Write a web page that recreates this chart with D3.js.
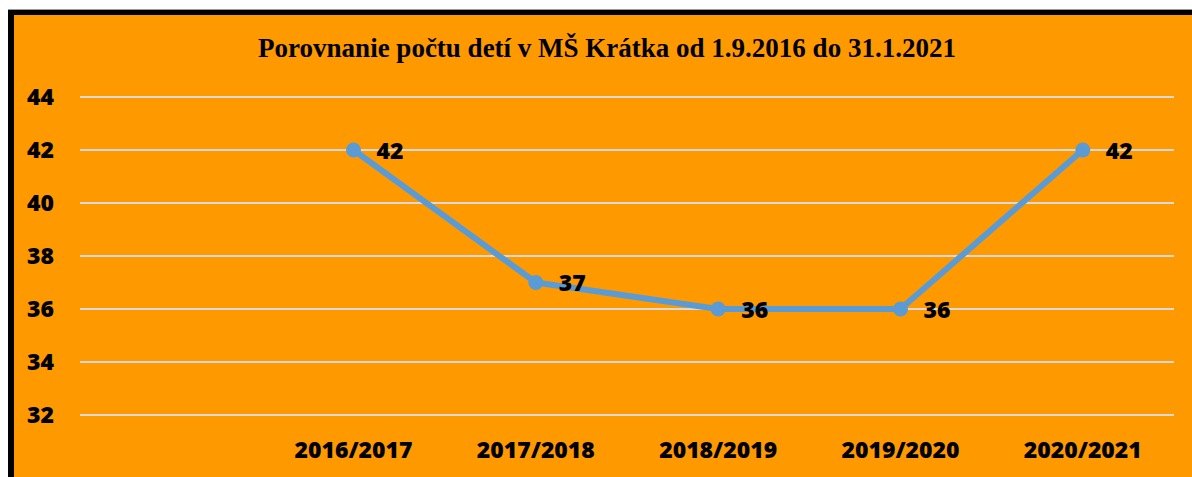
<!DOCTYPE html>
<html>
<head>
<meta charset="utf-8">
<script src="https://cdn.jsdelivr.net/npm/d3@7"></script>
<style>
  body { margin: 0; background: #fff; overflow: hidden; }
  svg { display: block; }
  .tick-label { font-family: 'Open Sans', sans-serif; font-weight: 800; font-size: 23px; fill: #000; }
  .title { font-family: 'Liberation Serif', serif; font-weight: bold; font-size: 27px; fill: #000; }
</style>
</head>
<body>
<script>
const width = 1192, height = 477;
const title = 'Porovnanie počtu detí v MŠ Krátka od 1.9.2016 do 31.1.2021';

// first category is empty in the original chart
const categories = ['', '2016/2017', '2017/2018', '2018/2019', '2019/2020', '2020/2021'];
const values = [null, 42, 37, 36, 36, 42];
const yTicks = [32, 34, 36, 38, 40, 42, 44];

const margin = { top: 97, right: 18, bottom: 62, left: 80 };
const innerWidth = width - margin.left - margin.right;
const innerHeight = height - margin.top - margin.bottom;

const svg = d3.select('body')
    .append('svg')
    .attr('width', width)
    .attr('height', height)

// frame
svg.append('rect').attr('x', 8).attr('y', 9).attr('width', width - 8).attr('height', height - 9).attr('fill', '#999')
svg.append('rect').attr('x', 8).attr('y', 10).attr('width', width - 8).attr('height', height - 10).attr('fill', '#000')
svg.append('rect').attr('x', 14).attr('y', 15).attr('width', width - 14).attr('height', height - 15).attr('fill', '#FF9900')

svg.append('text')
    .attr('class', 'title')
    .attr('x', 607)
    .attr('y', 57)
    .attr('text-anchor', 'middle')
    .text(title)

const xScale = d3.scaleBand()
    .domain(categories.map((d, i) => i))
    .range([0, innerWidth])

const yScale = d3.scaleLinear()
    .domain([32, 44])
    .range([innerHeight, 0])

const g = svg.append('g').attr('transform', `translate(${margin.left}, ${margin.top})`);

// gridlines
g.selectAll('.grid')
    .data(yTicks)
    .enter()
    .append('line')
    .attr('x1', 0)
    .attr('x2', innerWidth)
    .attr('y1', d => yScale(d))
    .attr('y2', d => yScale(d))
    .attr('stroke', '#D9D9D9')
    .attr('stroke-width', 2)

// y axis labels
g.selectAll('.ylab')
    .data(yTicks)
    .enter()
    .append('text')
    .attr('class', 'tick-label')
    .attr('x', -26)
    .attr('y', d => yScale(d))
    .attr('dy', '0.35em')
    .attr('text-anchor', 'end')
    .text(d => d)

// x axis labels
g.selectAll('.xlab')
    .data(categories)
    .enter()
    .append('text')
    .attr('class', 'tick-label')
    .attr('x', (d, i) => xScale(i) + xScale.bandwidth() / 2)
    .attr('y', innerHeight + 43)
    .attr('text-anchor', 'middle')
    .text(d => d)

const points = values.map((v, i) => ({ i, v })).filter(d => d.v !== null);

const line = d3.line()
    .x(d => xScale(d.i) + xScale.bandwidth() / 2)
    .y(d => yScale(d.v))

g.append('path')
    .attr('d', line(points))
    .attr('fill', 'none')
    .attr('stroke', '#5B9BD5')
    .attr('stroke-width', 6)
    .attr('stroke-linejoin', 'round')

g.selectAll('.dot')
    .data(points)
    .enter()
    .append('circle')
    .attr('cx', d => xScale(d.i) + xScale.bandwidth() / 2)
    .attr('cy', d => yScale(d.v))
    .attr('r', 7.5)
    .attr('fill', '#5B9BD5')

g.selectAll('.vlab')
    .data(points)
    .enter()
    .append('text')
    .attr('class', 'tick-label')
    .attr('x', d => xScale(d.i) + xScale.bandwidth() / 2 + 23)
    .attr('y', d => yScale(d.v))
    .attr('dy', '0.37em')
    .text(d => d.v)
</script>
</body>
</html>
